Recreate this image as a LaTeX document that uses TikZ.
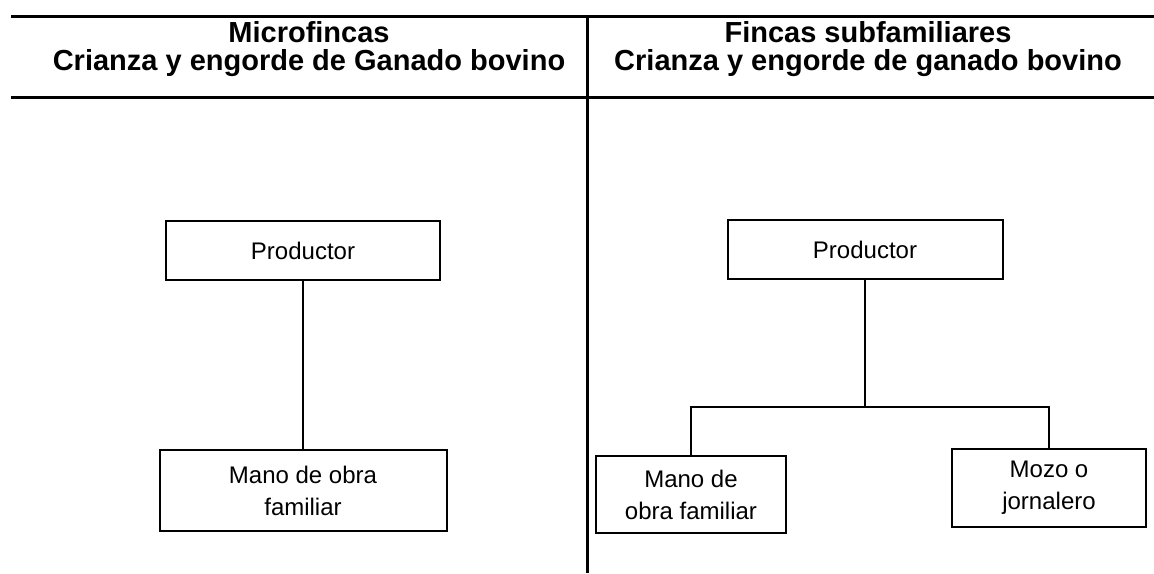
\documentclass[tikz,border=0pt]{standalone}
\usepackage{fontspec}
\setmainfont{Liberation Sans}
\begin{document}
\begin{tikzpicture}[x=0.5pt, y=-0.5pt, line width=1pt,
  box/.style={draw, align=center, inner sep=0pt, font=\fontsize{12}{16}\selectfont},
  title/.style={align=center, font=\bfseries\fontsize{14.5}{14}\selectfont},
  rule/.style={line width=1.5pt}]
  \useasboundingbox (0,0) rectangle (1154,573);
  \coordinate (TL) at (11,16);
  \coordinate (TR) at (1154,16);
  \coordinate (BL) at (11,97);
  \coordinate (BR) at (1154,97);
  \coordinate (DT) at (587,16);
  \coordinate (DB) at (587,573);
  \draw[rule] (TL) -- (TR);
  \draw[rule] (BL) -- (BR);
  \draw[rule] (DT) -- (DB);

  \node[title] (T1) at (309,49) {Microfincas\\Crianza y engorde de Ganado bovino};
  \node[title] (T2) at (868,49) {Fincas subfamiliares\\Crianza y engorde de ganado bovino};

  \node[box, minimum width=137pt, minimum height=29.5pt] (P1) at (303,250.5) {Productor};
  \node[box, minimum width=143.5pt, minimum height=40.5pt] (M1) at (303,490.5) {Mano de obra\\familiar};

  \node[box, minimum width=137.5pt, minimum height=29.5pt] (P2) at (865,249.5) {Productor};
  \node[box, minimum width=95pt, minimum height=38.5pt] (M2) at (691,494.5) {Mano de\\obra familiar};
  \node[box, minimum width=97pt, minimum height=39pt] (Z2) at (1049,488) {Mozo o\\jornalero};
  \coordinate (J) at (865,407);

  \draw (P1) -- (M1);
  \draw (P2) -- (J);
  \draw (M2.north) |- (J) -| (Z2.north);
\end{tikzpicture}
\end{document}
